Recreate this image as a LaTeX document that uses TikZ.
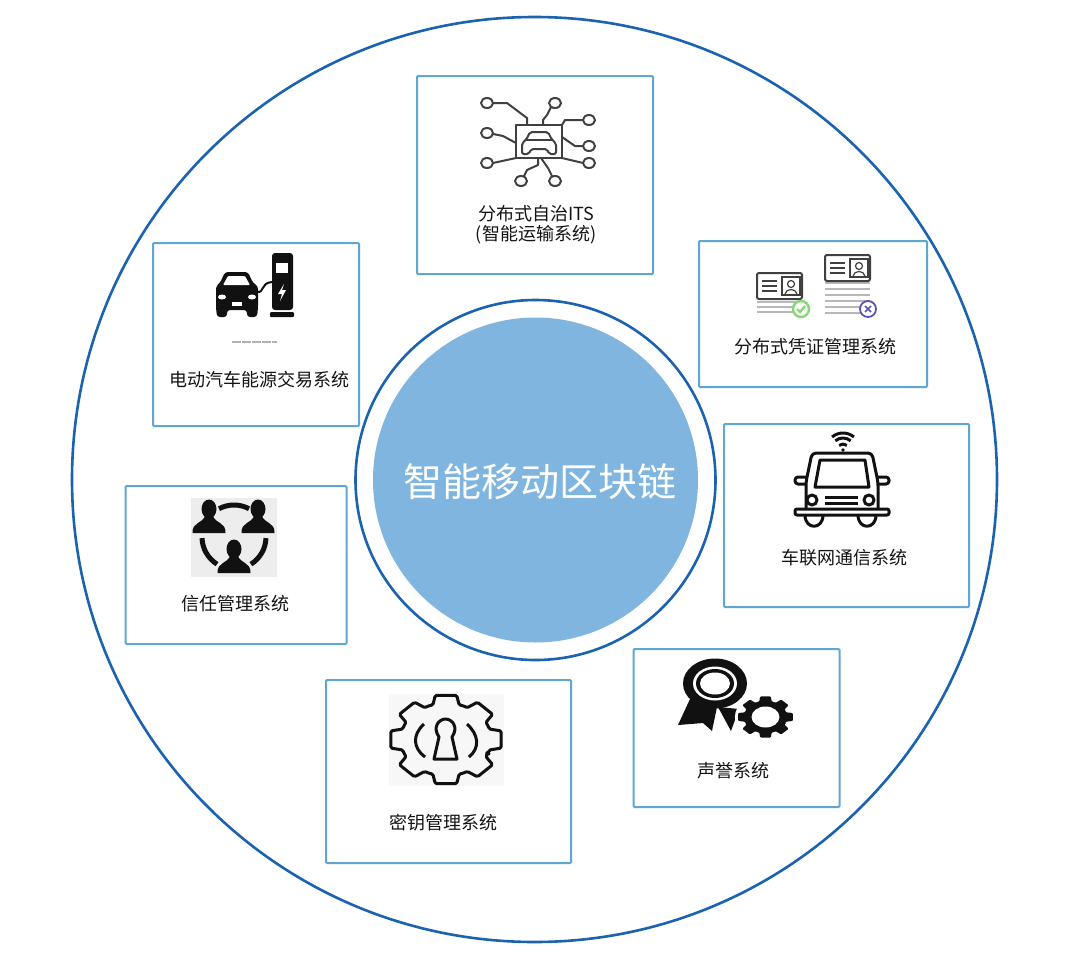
\documentclass[tikz,border=0pt]{standalone}
\usepackage{fontspec}
\newfontfamily\cjk{Noto Sans CJK SC}
\usetikzlibrary{positioning}
\definecolor{ringblue}{HTML}{1B62B0}
\definecolor{cardblue}{HTML}{5FA6D2}
\definecolor{hubblue}{HTML}{7FB5DE}
\definecolor{iconblack}{HTML}{111111}
\definecolor{okgreen}{HTML}{86D873}
\definecolor{badviolet}{HTML}{5A55B5}
\newcommand{\gearpath}[2]{
  (22.5:#2) \foreach \a in {45,90,...,360} {
    -- ({\a-17}:#2) -- ({\a-11}:#1) -- ({\a+11}:#1) -- ({\a+17}:#2) -- ({\a+22.5}:{#2+0.5})
  } -- cycle
}
\newcommand{\personicon}[2]{
  \fill[iconblack] (#1,#2) ellipse [x radius=7.5,y radius=9.5];
  \begin{scope}[shift={(#1,#2)}]
    \fill[iconblack] (-16.5,24) .. controls (-17,13) and (-7,15) .. (-4,7) -- (4,7)
      .. controls (7,15) and (17,13) .. (16.5,24) -- cycle;
  \end{scope}
}
\newcommand{\idcard}[2]{
  \begin{scope}[shift={(#1,#2)}]
    \draw[line width=2,rounded corners=2,draw=black!75,fill=white] (0,0) rectangle (45,26);
    \draw[line width=1.6,draw=black!75] (25,4) rectangle (43,22);
    \draw[line width=1.2,draw=black!75] (34,11) circle (3.5);
    \draw[line width=1.2,draw=black!75] (28,21) .. controls (29,15) and (39,15) .. (40,21);
    \foreach \y in {8,13,18} {
      \draw[line width=2,draw=black!75] (5,\y) -- (20,\y);
    }
  \end{scope}
}
\begin{document}
\begin{tikzpicture}[
  x=1pt,y=-1pt,
  font=\cjk,
  ring/.style={draw=ringblue,line width=2.6},
  cardbox/.style={draw=cardblue,line width=2,rounded corners=1,fill=white,inner sep=0},
  cardlabel/.style={text=black!92,font=\cjk\fontsize{18}{20}\selectfont,align=center,inner sep=0},
  huglabel/.style={text=white,font=\cjk\fontsize{39}{44}\selectfont,inner sep=0},
  iconline/.style={draw=iconblack,line width=3,line join=round},
  thinline/.style={draw=black!75,line width=2,line join=round},
  stackline/.style={draw=black!28,line width=1.5}
]
\useasboundingbox (0,0) rectangle (1080,954);
\fill[white] (0,0) rectangle (1080,954);

\draw[ring] (534.5,479.5) circle (462.5);
\draw[ring] (535.5,480) circle (180);
\node[circle,fill=hubblue,minimum size=325,inner sep=0] (hub) at (535.5,480) {};
\node[huglabel] (hubtext) at (540,482) {智能移动区块链};

\node[cardbox,minimum width=236,minimum height=198] (its) at (535,175) {};
\node[cardbox,minimum width=228,minimum height=146] (cred) at (813,314) {};
\node[cardbox,minimum width=245,minimum height=183] (v2x) at (846.5,515.5) {};
\node[cardbox,minimum width=206,minimum height=183] (ev) at (256,334.5) {};
\node[cardbox,minimum width=221,minimum height=158] (trust) at (236,565) {};
\node[cardbox,minimum width=245,minimum height=183] (key) at (448.5,771.5) {};
\node[cardbox,minimum width=206,minimum height=158] (rep) at (736.5,728) {};

\node[cardlabel] (itstext) at (536,224.5) {分布式自治ITS\\(智能运输系统)};
\node[cardlabel] (credtext) at (815,346.5) {分布式凭证管理系统};
\node[cardlabel] (v2xtext) at (844,557.5) {车联网通信系统};
\node[cardlabel] (evtext) at (259,379.5) {电动汽车能源交易系统};
\node[cardlabel] (trusttext) at (235,603.5) {信任管理系统};
\node[cardlabel] (keytext) at (443,822.5) {密钥管理系统};
\node[cardlabel] (reptext) at (733,770.5) {声誉系统};

% its icon
\draw[thinline] (516,125) rectangle (562,158);
\foreach \x/\y in {487/103,555/103,589/120,487/133,589/146,487/163,589/163,521/181,555/181} {
  \draw[thinline,fill=white] (\x,\y) ellipse [x radius=6,y radius=5];
}
\draw[thinline] (493,103) -- (507,103) -- (527,118) -- (527,125);
\draw[thinline] (551,107) -- (547,115) -- (543,120) -- (543,125);
\draw[thinline] (583,120) -- (565,120) -- (562,125);
\draw[thinline] (493,134) -- (503,136) -- (516,143);
\draw[thinline] (583,146) -- (575,146) -- (562,137);
\draw[thinline] (493,163) -- (516,158);
\draw[thinline] (583,163) -- (562,158);
\draw[thinline] (524,176) -- (527,170) -- (538,165) -- (538,158);
\draw[thinline] (552,176) -- (548,168) -- (541,158);
\draw[thinline,rounded corners=2] (526,140) -- (530,132) -- (548,132) -- (552,140) -- (556,143)
  -- (556,154) -- (549,154) -- (547,149) -- (531,149) -- (529,154) -- (522,154) -- (522,143) -- cycle;
\draw[thinline] (526,140) -- (552,140);

% credential icon
\foreach \y in {302,307,312} {
  \draw[stackline] (757,\y) -- (801,\y);
}
\foreach \y in {283,289,295,301,307,313} {
  \draw[stackline] (825,\y) -- (870,\y);
}
\idcard{757}{273}
\idcard{825}{255}
\draw[okgreen,line width=2.4,fill=white] (801,309) circle (8);
\draw[okgreen,line width=2.4] (797,309) -- (800,312) -- (805,306);
\draw[badviolet,line width=1.8,fill=white] (868,309) circle (8);
\draw[badviolet,line width=1.6] (865,306) -- (871,312) (871,306) -- (865,312);

% connected car icon
\draw[iconline] (815,487) -- (820,460) -- (865,460) -- (869,487) -- cycle;
\draw[iconline,rounded corners=4] (806,509) -- (806,482) -- (812,453) -- (872,453) -- (878,482) -- (878,509);
\draw[iconline,rounded corners=3] (806,477) -- (795,477) -- (795,484) -- (806,484);
\draw[iconline,rounded corners=3] (878,477) -- (889,477) -- (889,484) -- (878,484);
\draw[iconline,rounded corners=2] (795,509) rectangle (889,515);
\draw[iconline] (805,515) .. controls (805,530) and (823,530) .. (823,515);
\draw[iconline] (858,515) .. controls (858,530) and (876,530) .. (876,515);
\draw[iconline] (812,500) circle (5);
\draw[iconline] (869,500) circle (5);
\draw[iconline] (825,497) -- (858,497) (825,503) -- (858,503);
\foreach \r in {6,12,17} {
  \draw[iconline] (843,450) ++(-50:\r) arc [start angle=-50,end angle=-130,radius=\r];
}
\fill[iconblack] (843,450) circle (1.8);

% ev icon
\fill[iconblack,rounded corners=3] (225,272) -- (248,272) -- (253,283) -- (258,286) -- (258,308)
  -- (257,317) -- (247,317) -- (247,310) -- (227,310) -- (227,317) -- (217,317) -- (216,308) -- (216,286) -- (220,283) -- cycle;
\fill[white,rounded corners=1] (228,276) -- (245,276) -- (250,285) -- (223,285) -- cycle;
\fill[white] (222,297) ellipse [x radius=4,y radius=2.5];
\fill[white] (252,297) ellipse [x radius=4,y radius=2.5];
\fill[white] (232,302) rectangle (242,306);
\fill[iconblack,rounded corners=3] (272,253) rectangle (293,310);
\fill[iconblack,rounded corners=1] (270,312) rectangle (294,317);
\fill[white] (276,263) rectangle (288,273);
\fill[white] (284,284) -- (278,294) -- (282,294) -- (280,301) -- (286,290) -- (282,290) -- cycle;
\draw[iconblack,line width=2] (257,292) .. controls (265,293) and (260,283) .. (272,282);
\draw[black!30,line width=1.5,dash pattern=on 9pt off 1pt] (232,342) -- (277,342);

% trust icon
\fill[black!7] (191,498) rectangle (277,577);
\draw[iconblack,line width=5] (234,537) ++(-62:32) arc [start angle=-62,end angle=-118,radius=32];
\draw[iconblack,line width=5] (234,537) ++(178:32) arc [start angle=178,end angle=122,radius=32];
\draw[iconblack,line width=5] (234,537) ++(2:32) arc [start angle=2,end angle=58,radius=32];
\personicon{209}{509}
\personicon{258}{509}
\personicon{234}{549}

% key icon
\fill[black!3] (389,694) rectangle (504,786);
\begin{scope}[shift={(446,739.5)},xscale=1.25]
  \draw[iconline,rounded corners=1.5] \gearpath{45}{36};
\end{scope}
\draw[iconline] (434,759) -- (457,759) -- (452,737) .. controls (459,727) and (452,719) .. (445.5,719)
  .. controls (439,719) and (432,727) .. (439,737) -- cycle;
\draw[iconline] (424,724) .. controls (412,735) and (413,748) .. (425,757);
\draw[iconline] (467,724) .. controls (479,735) and (480,748) .. (469,757);

% reputation icon
\fill[iconblack] (690,699) -- (678,725) -- (703,723) -- (712,731) -- (717,707) -- cycle;
\fill[iconblack] (718,707) -- (731,731) -- (739,709) -- cycle;
\fill[iconblack] (715,683.5) ellipse [x radius=32,y radius=25];
\fill[white] (715,683.5) ellipse [x radius=22,y radius=17];
\fill[iconblack] (715,683.5) ellipse [x radius=19,y radius=14.5];
\fill[white] (715,683.5) ellipse [x radius=15,y radius=11];
\begin{scope}[shift={(765.5,717)},xscale=1.33]
  \fill[white] (0,0) circle (23);
  \fill[iconblack,rounded corners=1] \gearpath{21}{16};
  \fill[white] (0,0) circle (10.5);
\end{scope}
\end{tikzpicture}
\end{document}
